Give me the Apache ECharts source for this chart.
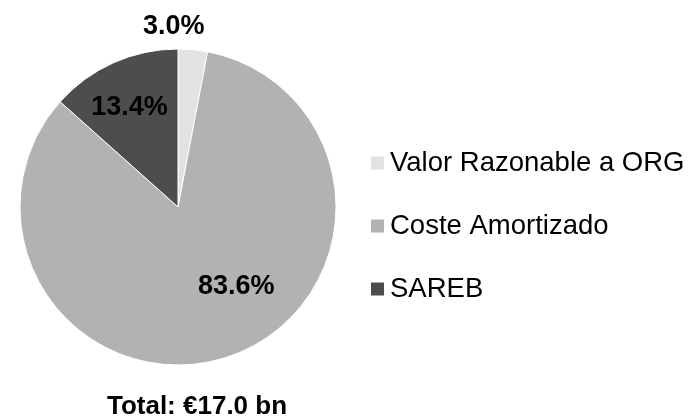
<!DOCTYPE html>
<html>
<head>
<meta charset="utf-8">
<script src="https://cdn.jsdelivr.net/npm/echarts@6/dist/echarts.min.js"></script>
<style>
  html, body { margin: 0; padding: 0; background: #fff; }
  #main { width: 693px; height: 417px; }
</style>
</head>
<body>
<div id="main"></div>
<script>
// 数据
var categories = ['Valor Razonable a ORG', 'Coste Amortizado', 'SAREB'];
var shares = [3.0, 83.6, 13.4];
var colors = ['#e2e2e2', '#b2b2b2', '#4d4d4d'];
// label offsets from the default inside position
var labelOffsets = [[-12, -99], [32, 2], [-15, -25]];

var chart = echarts.init(document.getElementById('main'));

var option = {
  animation: false,
  // 标题
  title: {
    text: 'Total: €17.0 bn',
    left: 197,
    textAlign: 'center',
    top: 394,
    padding: 0,
    textStyle: {
      fontFamily: 'Liberation Sans',
      fontSize: 26,
      fontWeight: 'bold',
      color: '#000'
    }
  },
  // 图例
  legend: {
    orient: 'vertical',
    left: 369,
    top: 148,
    padding: 0,
    icon: 'rect',
    itemWidth: 15,
    itemHeight: 15,
    itemGap: 33,
    textStyle: {
      fontFamily: 'Liberation Sans',
      fontSize: 27.5,
      lineHeight: 30,
      color: '#000'
    },
    data: categories
  },
  series: [{
    type: 'pie',
    center: [178, 207],
    radius: 158,
    startAngle: 90,
    clockwise: true,
    color: colors,
    itemStyle: { borderColor: '#fff', borderWidth: 1 },
    label: {
      show: true,
      position: 'inside',
      fontFamily: 'Liberation Sans',
      fontSize: 27,
      fontWeight: 'bold',
      color: '#000',
      formatter: function (p) { return p.value.toFixed(1) + '%'; }
    },
    labelLine: { show: false },
    data: categories.map(function (name, i) {
      return {
        name: name,
        value: shares[i],
        label: { offset: labelOffsets[i] }
      };
    })
  }]
};

chart.setOption(option);
</script>
</body>
</html>
